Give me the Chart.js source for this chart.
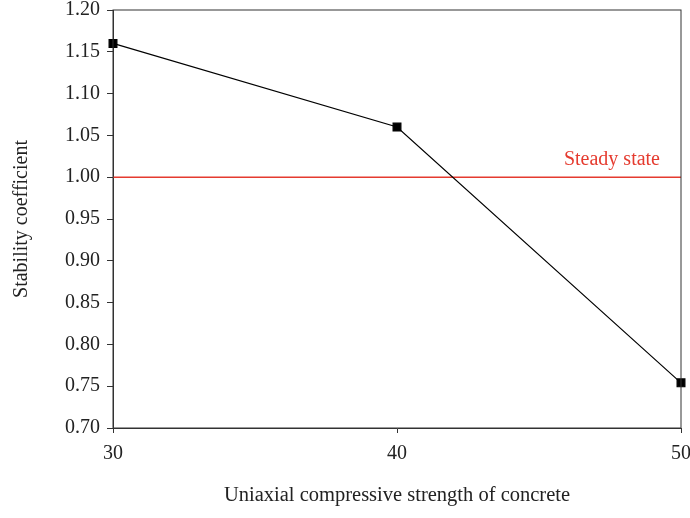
<!DOCTYPE html>
<html>
<head>
<meta charset="utf-8">
<script src="https://cdn.jsdelivr.net/npm/chart.js@4"></script>
<style>
  html, body { margin: 0; padding: 0; background: #fff; }
  #wrap { width: 690px; height: 518px; }
</style>
</head>
<body>
<div id="wrap"><canvas id="stabilityChart" width="690" height="518"></canvas></div>
<script>
const strengths = [30, 40, 50];
const stability = [1.16, 1.06, 0.754];
const steadyLevel = 1.00;
const steadyLabel = 'Steady state';

const serif = "'Liberation Serif', 'DejaVu Serif', serif";

// frame around the plot area and the steady-state caption
const framePlugin = {
    id: 'frame',
    afterDraw(chart) {
        const a = chart.chartArea;
        const c = chart.ctx;
        c.save();
        c.strokeStyle = '#333';
        c.lineWidth = 1;
        c.strokeRect(a.left, a.top, a.right - a.left, a.bottom - a.top);
        const yPix = chart.scales.y.getPixelForValue(steadyLevel);
        c.fillStyle = '#e53b2f';
        c.font = "20px " + serif;
        c.textAlign = 'right';
        c.textBaseline = 'bottom';
        c.fillText(steadyLabel, a.right - 21, yPix - 7);
        c.restore();
    }
};

const ctx = document.getElementById('stabilityChart');

new Chart(ctx,
{
    type: 'line',
    data:
    {
        datasets: [
            {
                label: 'Stability coefficient',
                data: strengths.map((x, i) => ({ x: x, y: stability[i] })),
                borderColor: '#000',
                backgroundColor: '#000',
                borderWidth: 1.2,
                pointStyle: 'rect',
                pointRadius: 5.5,
                tension: 0,
                clip: false
            },
            {
                label: steadyLabel,
                data: [{ x: strengths[0], y: steadyLevel }, { x: strengths[strengths.length - 1], y: steadyLevel }],
                borderColor: '#e53b2f',
                borderWidth: 1.4,
                pointRadius: 0
            }
        ]
    },
    options:
    {
        responsive: false,
        animation: false,
        layout: { padding: { top: 10, right: 9, left: 6, bottom: 1 } },
        plugins:
        {
            legend: { display: false },
            tooltip: { enabled: false }
        },
        scales:
        {
            x:
            {
                type: 'linear',
                min: 30,
                max: 50,
                afterFit: s => { s.height = 89; s.paddingLeft = 0; s.paddingRight = 0; },
                ticks: { stepSize: 10, color: '#222', font: { family: serif, size: 20 }, padding: 9 },
                grid: { drawOnChartArea: false, drawTicks: true, tickLength: 5, color: '#333' },
                border: { color: '#333' },
                title: { display: true, text: 'Uniaxial compressive strength of concrete', color: '#222', font: { family: serif, size: 20.5 }, padding: { top: 8, bottom: 9 } }
            },
            y:
            {
                min: 0.70,
                max: 1.20,
                afterFit: s => { s.width = 107; s.paddingTop = 0; s.paddingBottom = 0; },
                ticks: { stepSize: 0.05, color: '#222', font: { family: serif, size: 20 }, padding: 7, callback: v => v.toFixed(2) },
                grid: { drawOnChartArea: false, drawTicks: true, tickLength: 6, color: '#333' },
                border: { color: '#333' },
                title: { display: true, text: 'Stability coefficient', color: '#222', font: { family: serif, size: 20 }, padding: { top: 4, bottom: 20 } }
            }
        }
    },
    plugins: [framePlugin]
});
</script>
</body>
</html>
